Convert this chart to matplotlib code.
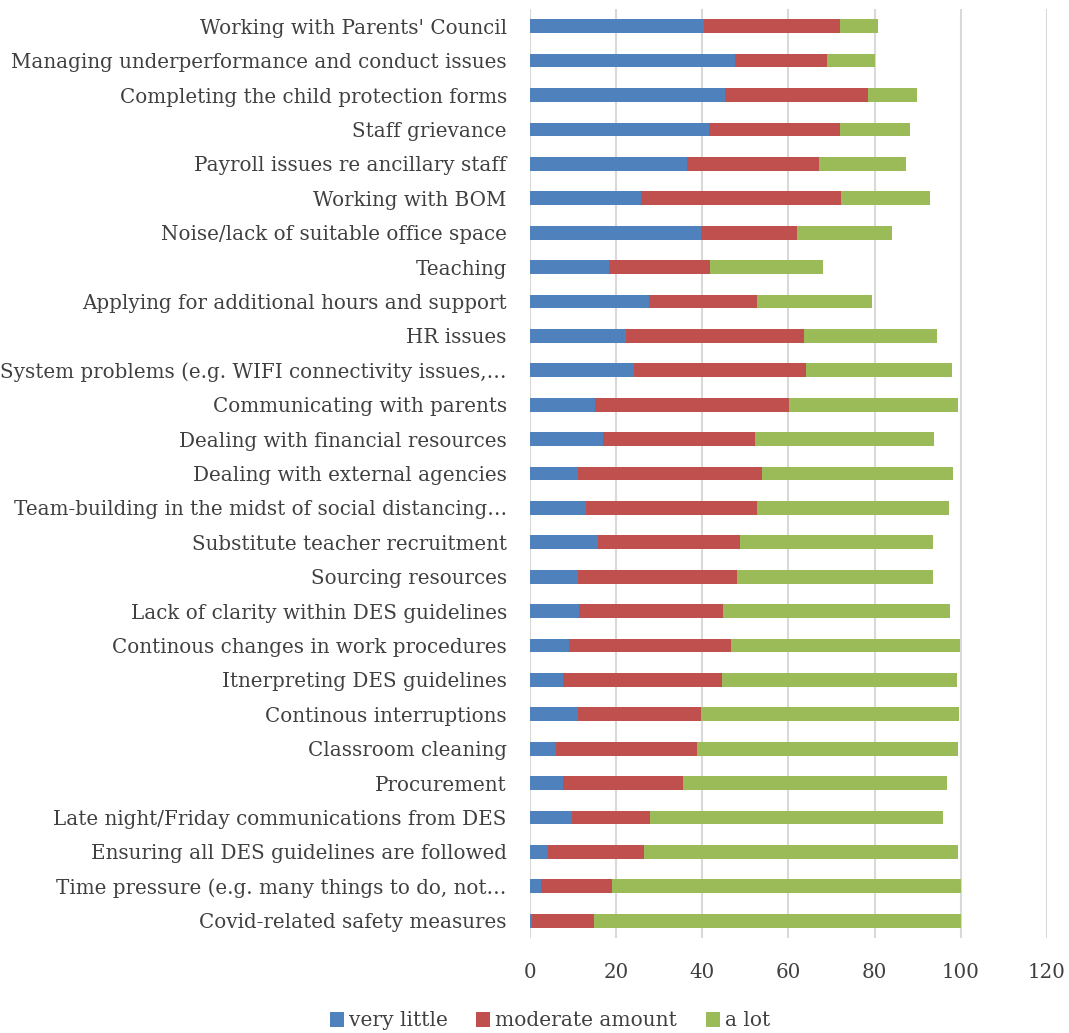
import numpy as np
import matplotlib.pyplot as plt

# survey items, top to bottom
items = [
    "Working with Parents' Council",
    "Managing underperformance and conduct issues",
    "Completing the child protection forms",
    "Staff grievance",
    "Payroll issues re ancillary staff",
    "Working with BOM",
    "Noise/lack of suitable office space",
    "Teaching",
    "Applying for additional hours and support",
    "HR issues",
    "System problems (e.g. WIFI connectivity issues,\u2026",
    "Communicating with parents",
    "Dealing with financial resources",
    "Dealing with external agencies",
    "Team-building in the midst of social distancing\u2026",
    "Substitute teacher recruitment",
    "Sourcing resources",
    "Lack of clarity within DES guidelines",
    "Continous changes in work procedures",
    "Itnerpreting DES guidelines",
    "Continous interruptions",
    "Classroom cleaning",
    "Procurement",
    "Late night/Friday communications from DES",
    "Ensuring all DES guidelines are followed",
    "Time pressure (e.g. many things to do, not\u2026",
    "Covid-related safety measures",
]

very_little = [40.5, 47.6, 45.3, 41.5, 36.6, 25.8, 39.7, 18.4, 27.6, 22.4, 24.1, 15.1, 17.1, 11.2,
               13.0, 15.9, 11.2, 11.5, 9.1, 7.8, 11.1, 6.1, 7.8, 9.8, 4.3, 2.6, 0.5]
moderate = [31.4, 21.4, 33.1, 30.4, 30.4, 46.5, 22.4, 23.5, 25.1, 41.2, 39.9, 45.1, 35.2, 42.8,
            39.7, 33.0, 36.9, 33.3, 37.7, 36.9, 28.7, 32.7, 27.7, 18.2, 22.3, 16.5, 14.4]
a_lot = [8.8, 11.1, 11.5, 16.3, 20.3, 20.6, 21.9, 26.2, 26.8, 30.8, 33.9, 39.1, 41.6, 44.2,
         44.5, 44.7, 45.5, 52.8, 53.0, 54.5, 59.9, 60.5, 61.4, 67.8, 72.7, 80.9, 85.1]

blue = '#4F81BD'
red = '#C0504D'
green = '#9BBB59'

plt.rcParams['font.family'] = ['DejaVu Serif']

fig = plt.figure(figsize=(10.69, 10.33), dpi=100)
ax = fig.add_axes([0.4955, 0.092, 0.4839, 0.8993])

y = np.arange(len(items))
vl = np.array(very_little)
mo = np.array(moderate)
al = np.array(a_lot)
h = 0.4
ax.barh(y, vl, h, color=blue, label='very little')
ax.barh(y, mo, h, left=vl, color=red, label='moderate amount')
ax.barh(y, al, h, left=vl + mo, color=green, label='a lot')

ax.set_xlim(0, 120)
ax.set_ylim(len(items) - 0.5, -0.5)
ax.set_xticks(np.arange(0, 121, 20))
ax.set_yticks(y)
ax.set_yticklabels(items)
ax.tick_params(axis='both', length=0, labelsize=14.3, colors='#404040')
ax.tick_params(axis='y', pad=16.5)
ax.tick_params(axis='x', pad=18)
ax.grid(axis='x', color='#d9d9d9', linewidth=1.5)
ax.set_axisbelow(True)
for s in ax.spines.values():
    s.set_visible(False)

fig.legend(loc='center', bbox_to_anchor=(550 / 1069, 1 - 1021 / 1033), ncol=3, frameon=False,
           fontsize=14.5, handlelength=0.7, handleheight=0.7, handletextpad=0.25, columnspacing=1.4,
           labelcolor='#404040', borderpad=0.2)

fig.savefig('out.png', dpi=100)
